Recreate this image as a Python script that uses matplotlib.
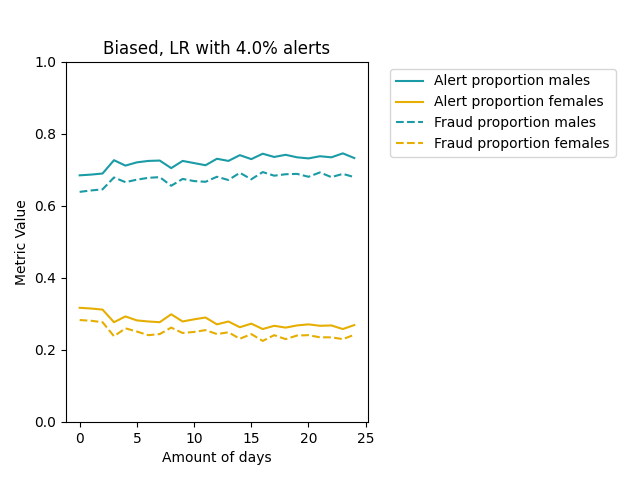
import matplotlib
matplotlib.use("Agg")
import matplotlib.pyplot as plt

days = list(range(25))

alert_males = [0.685, 0.687, 0.690, 0.727, 0.712, 0.721, 0.725, 0.726, 0.705, 0.725,
               0.719, 0.713, 0.731, 0.725, 0.741, 0.730, 0.745, 0.736, 0.742, 0.735,
               0.732, 0.738, 0.735, 0.746, 0.733]
alert_females = [0.317, 0.315, 0.312, 0.277, 0.293, 0.282, 0.279, 0.277, 0.299, 0.279,
                 0.285, 0.290, 0.271, 0.279, 0.263, 0.273, 0.258, 0.267, 0.262, 0.268,
                 0.271, 0.267, 0.268, 0.258, 0.269]
fraud_males = [0.639, 0.643, 0.646, 0.679, 0.666, 0.673, 0.678, 0.680, 0.656, 0.675,
               0.669, 0.667, 0.681, 0.672, 0.692, 0.674, 0.694, 0.684, 0.688, 0.689,
               0.681, 0.693, 0.680, 0.689, 0.680]
fraud_females = [0.283, 0.281, 0.277, 0.238, 0.260, 0.251, 0.241, 0.244, 0.262, 0.247,
                 0.250, 0.255, 0.244, 0.249, 0.231, 0.244, 0.225, 0.241, 0.230, 0.240,
                 0.241, 0.235, 0.235, 0.230, 0.242]

TEAL = "#1a9ba6"
GOLD = "#e6ae00"

fig, ax = plt.subplots(figsize=(6.4, 4.8), dpi=100)
fig.subplots_adjust(left=0.103, right=0.575, top=0.871, bottom=0.121)

ax.plot(days, alert_males, color=TEAL, label="Alert proportion males")
ax.plot(days, alert_females, color=GOLD, label="Alert proportion females")
ax.plot(days, fraud_males, color=TEAL, linestyle="--", label="Fraud proportion males")
ax.plot(days, fraud_females, color=GOLD, linestyle="--", label="Fraud proportion females")

ax.set_ylim(0, 1)
ax.set_title("Biased, LR with 4.0% alerts")
ax.set_xlabel("Amount of days")
ax.set_ylabel("Metric Value")
ax.legend(bbox_to_anchor=(1.05, 1), loc="upper left")

fig.savefig("out.png", dpi=100)
